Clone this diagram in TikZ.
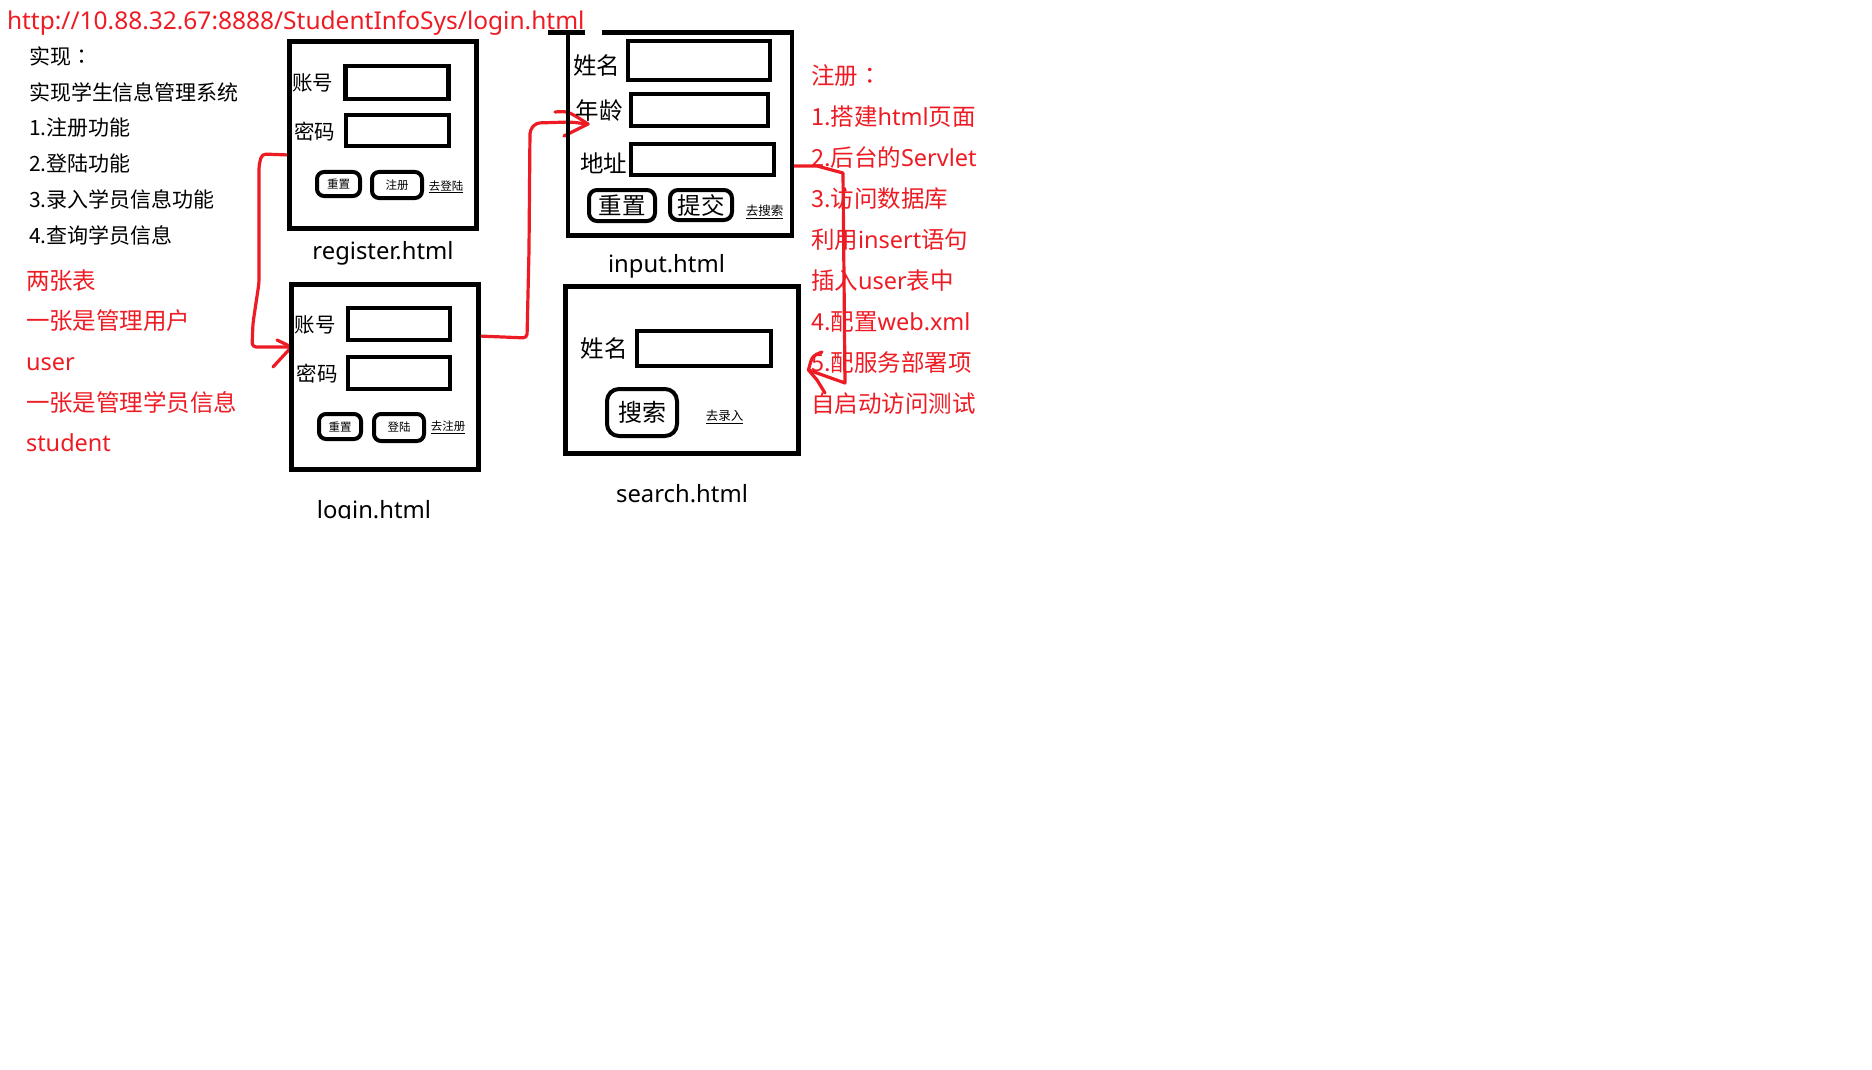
\documentclass[tikz,border=0pt]{standalone}
\usepackage{fontspec}
\setmainfont{Noto Sans CJK SC}
\newfontfamily\lat{Noto Sans}
\newfontfamily\tcfont{Noto Sans CJK TC}
\usetikzlibrary{positioning,backgrounds}
\definecolor{paintred}{RGB}{237,28,36}

\begin{document}
\begin{tikzpicture}[x=1pt, y=-1pt,
  every node/.style={inner sep=0pt, outer sep=0pt},
  page/.style={draw, line width=4.6pt},
  field/.style={draw, line width=4.3pt},
  btn/.style={draw, line width=4pt, rounded corners=7pt},
  tag/.style={font=\fontsize{20.5}{24}\selectfont},
  bigtag/.style={font=\fontsize{23.5}{28}\selectfont},
  tiny/.style={font=\fontsize{11.5}{14}\selectfont},
  link/.style={font=\fontsize{12.5}{15}\selectfont},
  fname/.style={font=\lat\fontsize{23.8}{28}\selectfont},
  note/.style={anchor=base west, font=\fontsize{21}{25}\selectfont},
  rednote/.style={anchor=base west, text=paintred, font=\fontsize{23.5}{28}\selectfont},
  pen/.style={draw=paintred, line width=3.2pt, line cap=round, line join=round}
]
\useasboundingbox (0,0) rectangle (1872,1070);

% address bar
\node[anchor=base west, text=paintred, font=\lat\fontsize{24.5}{28}\selectfont] (url) at (7,29.3)
  {http://10.88.32.67:8888/StudentInfoSys/login.html};

% notes on the left
\foreach \t [count=\i] in {实现{\tcfont ：},实现学生信息管理系统,1.注册功能,2.登陆功能,3.录入学员信息功能,4.查询学员信息}
  \node[note] (aim\i) at (29,28.5+35.8*\i) {\t};
\foreach \t [count=\i] in {两张表,一张是管理用户,{\lat user},一张是管理学员信息,{\lat student}}
  \node[rednote] (table\i) at (26,248.6+40.6*\i) {\t};

% register.html
\node[page, minimum width=187pt, minimum height=187pt] (reg) at (383,135) {};
\node[field, minimum width=103pt, minimum height=33pt] (regacc) at (397,82.5) {};
\node[field, minimum width=103pt, minimum height=31pt] (regpw) at (397.5,130.5) {};
\node[tag] (regacclbl) at (312.5,82.5) {账号};
\node[tag] (regpwlbl) at (314.5,131.5) {密码};
\node[btn, minimum width=43pt, minimum height=24pt, tiny] (regreset) at (338.5,184) {重置};
\node[btn, minimum width=50pt, minimum height=26pt, tiny] (regsend) at (397,185) {注册};
\node[link, font=\fontsize{11.5}{14}\selectfont] (reglink) at (446,187) {\underline{去登陆}};
\node[fname, below=13pt of reg] (regname) {register.html};

% login.html
\node[page, minimum width=187pt, minimum height=185pt] (login) at (385,377) {};
\node[field, minimum width=102pt, minimum height=32pt] (logacc) at (399,324) {};
\node[field, minimum width=102pt, minimum height=32pt] (logpw) at (399,373) {};
\node[tag] (logacclbl) at (315,324.5) {账号};
\node[tag] (logpwlbl) at (317,373.5) {密码};
\node[btn, minimum width=42pt, minimum height=25pt, tiny] (logreset) at (340,426.5) {重置};
\node[btn, minimum width=50pt, minimum height=27pt, tiny] (logsend) at (399,427.5) {登陆};
\node[link, font=\fontsize{11.5}{14}\selectfont] (loglink) at (448,427) {\underline{去注册}};
\begin{scope}
  \clip (250,480) rectangle (520,518);
  \node[fname, below=30.5pt of login, xshift=-11pt] (logname) {login.html};
\end{scope}

% input.html
\node[minimum width=224pt, minimum height=203pt] (inp) at (680,134) {};
\draw[line width=4.6pt] ([xshift=-20pt]inp.north west) -- ([xshift=17pt]inp.north west);
\draw[line width=4.6pt] ([xshift=34pt]inp.north west) -- (inp.north east) -- (inp.south east)
  -- (inp.south west) -- (inp.north west);
\node[field, minimum width=142pt, minimum height=39pt] (inpname) at (699,60.5) {};
\node[field, minimum width=137pt, minimum height=32pt] (inpage) at (699.5,110) {};
\node[field, minimum width=143pt, minimum height=31pt] (inpaddr) at (702.5,159.5) {};
\node[bigtag] (inpnamelbl) at (596.5,66) {姓名};
\node[bigtag] (inpagelbl) at (599,111) {年龄};
\node[bigtag] (inpaddrlbl) at (603.5,163) {地址};
\node[btn, minimum width=66pt, minimum height=31pt, rounded corners=8pt, bigtag] (inpreset) at (622,205.5) {重置};
\node[btn, minimum width=62pt, minimum height=30pt, rounded corners=8pt, bigtag] (inpsend) at (701,205) {提交};
\node[link] (inplink) at (764.5,212) {\underline{去搜索}};
\node[fname, below=19pt of inp, xshift=-13.5pt] (inpfile) {input.html};

% search.html
\node[page, minimum width=233pt, minimum height=167pt] (srch) at (682,370) {};
\node[field, minimum width=134pt, minimum height=35pt] (srchname) at (704,348.5) {};
\node[bigtag] (srchnamelbl) at (604,349) {姓名};
\node[btn, minimum width=70pt, minimum height=47pt, rounded corners=12pt, font=\fontsize{24}{28}\selectfont] (srchbtn) at (642,412.5) {搜索};
\node[link] (srchlink) at (724.5,417) {\underline{去录入}};
\node[fname, below=31pt of srch] (srchfile) {search.html};

% notes on the right
\foreach \t [count=\i] in {注册{\tcfont ：},1.搭建{\lat html}页面,2.后台的{\lat Servlet},3.访问数据库,利用{\lat insert}语句,插入{\lat user}表中,4.配置{\lat web.xml},5.配服务部署项,自启动访问测试}
  \node[rednote] (step\i) at (811,43.76+40.94*\i) {\t};

% hand drawn arrows
\coordinate (loginin) at ([yshift=30pt]login.west);
\coordinate (inpin) at ([xshift=20pt,yshift=10pt]inp.west);
\coordinate (srchin) at ([xshift=10pt]srch.east);
\begin{scope}[on background layer]
  \draw[pen, rounded corners=4pt] ([yshift=-20pt]reg.west) -- (262,154) -- (259,165) -- (259,283)
    -- (253,323) -- (252,347) -- (loginin);
  \draw[pen] (277,340) -- (loginin) -- (273,367);
  \draw[pen, rounded corners=4pt] ([yshift=41pt]login.east) -- (527,338) -- (529,250) -- (530,130)
    -- (536,123) -- (570,122) -- (inpin);
  \draw[pen] (555,112) .. controls (568,111) .. (inpin) -- (564,136);
  \draw[pen] ([yshift=-32pt]inp.east) -- (817,166) -- (843,173) -- (845,383) -- (srchin);
  \draw[pen] (822,352) .. controls (812,356) .. (srchin) -- (817,380) -- (825,393);
\end{scope}
\end{tikzpicture}
\end{document}
